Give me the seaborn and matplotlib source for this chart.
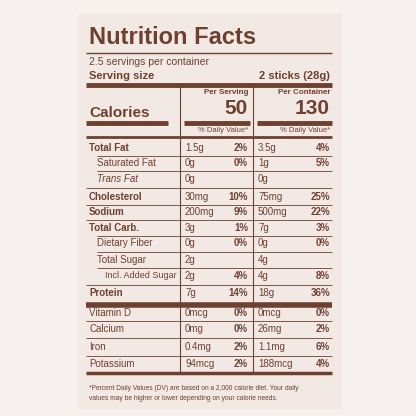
import matplotlib
matplotlib.use("Agg")
import matplotlib.pyplot as plt
import seaborn as sns

sns.set_theme(style="white")
plt.rcParams['font.family'] = ['Liberation Sans', 'DejaVu Sans']

nutrients = ["Total Fat", "Saturated Fat", "Trans Fat", "Cholesterol", "Sodium",
             "Total Carb.", "Dietary Fiber", "Total Sugar", "Incl. Added Sugar",
             "Protein", "Vitamin D", "Calcium", "Iron", "Potassium"]
bold = [True, False, False, True, True, True, False, False, False, True, False, False, False, False]
indent = [0, 1, 1, 0, 0, 0, 1, 1, 2, 0, 0, 0, 0, 0]
serv_amt = ["1.5g", "0g", "0g", "30mg", "200mg", "3g", "0g", "2g", "2g", "7g", "0mcg", "0mg", "0.4mg", "94mcg"]
serv_dv = ["2%", "0%", "", "10%", "9%", "1%", "0%", "", "4%", "14%", "0%", "0%", "2%", "2%"]
cont_amt = ["3.5g", "1g", "0g", "75mg", "500mg", "7g", "0g", "4g", "4g", "18g", "0mcg", "26mg", "1.1mg", "188mcg"]
cont_dv = ["4%", "5%", "", "25%", "22%", "3%", "0%", "", "8%", "36%", "0%", "2%", "6%", "4%"]
cal_serv, cal_cont = "50", "130"

row_y = [148, 163, 179, 197, 212, 228, 243, 260, 276, 293, 313, 329, 347, 364]

C = "#6e4030"
fig = plt.figure(figsize=(4.16, 4.16), dpi=100)
fig.patch.set_facecolor("#f6f1ee")
ax = fig.add_axes([0, 0, 1, 1])
ax.set_xlim(0, 416); ax.set_ylim(416, 0); ax.axis("off")
ax.add_patch(plt.Rectangle((78, 14), 262, 394, color="#f3e9e4", zorder=0))

def hl(y, x0, x1, lw):
    ax.plot([x0, x1], [y, y], color=C, lw=lw, solid_capstyle="butt")

ax.text(89, 37, "Nutrition Facts", fontsize=17, fontweight="bold", color=C, va="center")
hl(53, 86, 332, 1)
ax.text(89, 62, "2.5 servings per container", fontsize=7.5, color=C, va="center")
ax.text(89, 76, "Serving size", fontsize=8, fontweight="bold", color=C, va="center")
ax.text(330, 76, "2 sticks (28g)", fontsize=8, fontweight="bold", color=C, va="center", ha="right")
hl(85, 86, 332, 3.5)
ax.plot([180, 180], [86, 372], color=C, lw=0.8)
ax.plot([253, 253], [86, 372], color=C, lw=0.8)
ax.text(248, 93, "Per Serving", fontsize=5.8, fontweight="bold", color=C, va="center", ha="right")
ax.text(330, 93, "Per Container", fontsize=5.8, fontweight="bold", color=C, va="center", ha="right")
ax.text(89, 113, "Calories", fontsize=11, fontweight="bold", color=C, va="center")
ax.text(248, 108, cal_serv, fontsize=15, fontweight="bold", color=C, va="center", ha="right")
ax.text(330, 108, cal_cont, fontsize=15, fontweight="bold", color=C, va="center", ha="right")
for x0, x1 in [(86, 168), (184, 250), (257, 332)]:
    hl(123, x0, x1, 3.5)
ax.text(248, 130, "% Daily Value*", fontsize=5.5, color=C, va="center", ha="right")
ax.text(330, 130, "% Daily Value*", fontsize=5.5, color=C, va="center", ha="right")
hl(137, 86, 332, 2)

for i, n in enumerate(nutrients):
    y = row_y[i]
    st = "italic" if n == "Trans Fat" else "normal"
    fs = 6.5 if indent[i] == 2 else 7
    ax.text(89 + 8 * indent[i], y, n, fontsize=fs, fontweight="bold" if bold[i] else "normal",
            style=st, color=C, va="center")
    ax.text(185, y, serv_amt[i], fontsize=7, color=C, va="center")
    ax.text(248, y, serv_dv[i], fontsize=7, fontweight="bold", color=C, va="center", ha="right")
    ax.text(258, y, cont_amt[i], fontsize=7, color=C, va="center")
    ax.text(330, y, cont_dv[i], fontsize=7, fontweight="bold", color=C, va="center", ha="right")
    if i < len(nutrients) - 1:
        yn = (y + row_y[i + 1]) / 2
        lw = 4 if n == "Protein" else 0.6
        x0 = 86 if (indent[i + 1] == 0 or lw > 1) else 97
        hl(yn + (2 if lw > 1 else 0), x0, 332, lw)
hl(373, 86, 332, 2.5)
ax.text(89, 385, "*Percent Daily Values (DV) are based on a 2,000 calorie diet. Your daily\n"
        "values may be higher or lower depending on your calorie needs.",
        fontsize=4.8, color=C, va="top", linespacing=1.5)
fig.savefig("out.png", dpi=100, facecolor=fig.get_facecolor())
